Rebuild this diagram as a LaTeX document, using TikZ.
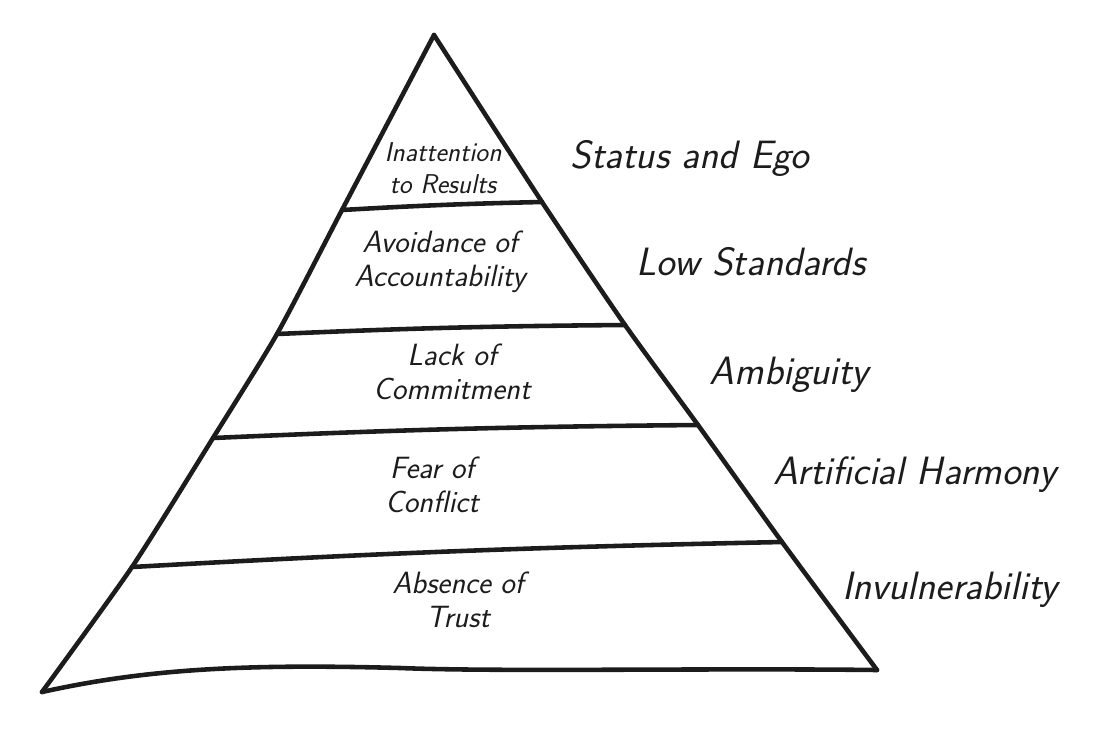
\documentclass[tikz,border=0pt]{standalone}
\usepackage{tikz}
\usetikzlibrary{calc}
\definecolor{stift}{RGB}{28,28,28}

\begin{document}
\begin{tikzpicture}[stift, x=0.02cm, y=-0.02cm, line width=2.6pt,
	line join=round,
	line cap=round,
	stufe/.style={font=\sffamily\itshape\fontsize{17.5}{19.5}\selectfont, align=center, inner sep=0pt},
	grund/.style={font=\sffamily\itshape\fontsize{22.5}{25}\selectfont, inner sep=0pt},
]
\useasboundingbox (0,0) rectangle (1105,744);

% Pyramide
\coordinate (spitze) at (434,35);
\coordinate (links) at (42,692);
\coordinate (rechts) at (877,670);

% Stufen (Enden auf den Kanten)
\coordinate (l1) at (342,210);  \coordinate (r1) at (542,202);
\coordinate (l2) at (277,334);  \coordinate (r2) at (625,325);
\coordinate (l3) at (213,438);  \coordinate (r3) at (698,425);
\coordinate (l4) at (132,567);  \coordinate (r4) at (782,542);

\draw plot[smooth, tension=0.4] coordinates {(links) (l4) (l3) (l2) (l1) (spitze)};
\draw plot[smooth, tension=0.4] coordinates {(spitze) (r1) (r2) (r3) (r4) (rechts)};
\draw (rechts)
	.. controls (700,668) and (500,672) .. (400,668)
	.. controls (250,664) and (150,668) .. (links);

\foreach \i in {1,...,4}
	\draw (l\i) to[bend left=1] (r\i);

% Stufen beschriften
\node[stufe, font=\sffamily\itshape\fontsize{15.5}{18.5}\selectfont] (ergebnis) at (443,168) {Inattention\\to Results};
\node[stufe] (verantwortung) at (440,262) {Avoidance of\\Accountability};
\node[stufe] (engagement) at (452,372) {Lack of\\Commitment};
\node[stufe] (konflikt) at (432,485) {Fear of\\Conflict};
\node[stufe] (vertrauen) at (458,600) {Absence of\\Trust};

% Ursachen
\node[grund] (ego) at (690,158) {Status and Ego};
\node[grund] (standards) at (751,262) {Low Standards};
\node[grund] (ambiguitaet) at (789,375) {Ambiguity};
\node[grund] (harmonie) at (915,475) {Artificial Harmony};
\node[grund] (unverwundbar) at (950,590) {Invulnerability};

\end{tikzpicture}
\end{document}
